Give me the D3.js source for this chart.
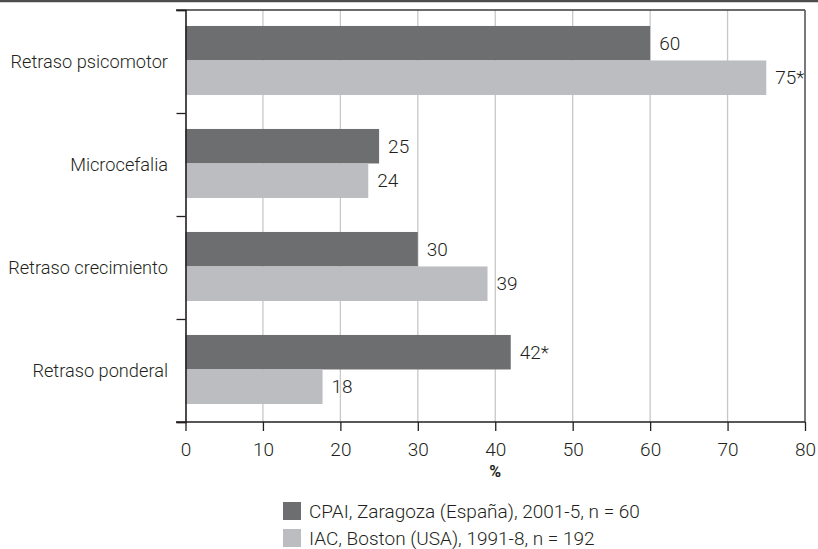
<!DOCTYPE html>
<html><head><meta charset="utf-8">
<script src="https://cdn.jsdelivr.net/npm/d3@7/dist/d3.min.js"></script>
<style>
html,body{margin:0;padding:0;background:#fff;}
svg{display:block;}
text{font-family:Roboto,"Open Sans",sans-serif;fill:#231f20;}
</style></head>
<body>
<svg id="chart" width="818" height="549"></svg>
<script>
const categories = ["Retraso psicomotor","Microcefalia","Retraso crecimiento","Retraso ponderal"];
const seriesNames = ["CPAI, Zaragoza (España), 2001-5, n = 60","IAC, Boston (USA), 1991-8, n = 192"];
const cpaiValues = [60, 25, 30, 42];
const iacValues = [75, 23.6, 39, 17.7];
const cpaiLabels = ["60","25","30","42*"];
const iacLabels = ["75*","24","39","18"];
const xTicks = [0,10,20,30,40,50,60,70,80];
const xTitle = "%";
const colors = ["#6d6e70","#bcbdc0"];

const svg = d3.select("#chart");
const m = {left:185.5, right:805, top:10, bottom:422};
const fontSize = 19;
const catFont = 18.2;
const fw = 300;

const x = d3.scaleLinear().domain([0,80]).range([m.left, m.right]);
const y0 = d3.scaleBand().domain(categories).range([m.top, m.bottom]);
const bw = y0.bandwidth();
const y1 = d3.scaleBand().domain([0,1]).range([bw*0.155, bw*0.825]);

// page top rule
svg.append("line").attr("x1",0).attr("x2",818).attr("y1",1).attr("y2",1)
  .attr("stroke","#4d4d4f").attr("stroke-width",2.5);

// gridlines
svg.append("g").selectAll("line").data(xTicks.filter(t=>t>0 && t<80)).join("line")
  .attr("x1",d=>x(d)).attr("x2",d=>x(d)).attr("y1",m.top).attr("y2",m.bottom)
  .attr("stroke","#c8c8ca").attr("stroke-width",1.3);

// bars
const data = categories.map((c,i)=>({c, vals:[cpaiValues[i], iacValues[i]], labs:[cpaiLabels[i], iacLabels[i]]}));
const g = svg.append("g");
data.forEach(d=>{
  d.vals.forEach((v,j)=>{
    const yy = y0(d.c) + y1(j);
    g.append("rect").attr("x",x(0)).attr("y",yy).attr("width",x(v)-x(0)).attr("height",y1.bandwidth())
      .attr("fill",colors[j]);
    g.append("text").attr("x",x(v)+9).attr("y",yy+y1.bandwidth()/2).attr("dy","0.35em")
      .attr("font-size",fontSize).attr("font-weight",fw).text(d.labs[j]);
  });
});

// frame: top and right
svg.append("line").attr("x1",176).attr("x2",m.right).attr("y1",m.top).attr("y2",m.top)
  .attr("stroke","#3a3a3c").attr("stroke-width",1.5);
svg.append("line").attr("x1",m.right).attr("x2",m.right).attr("y1",m.top).attr("y2",m.bottom)
  .attr("stroke","#4d4d4f").attr("stroke-width",1.5);

// y axis
const yAxis = d3.axisLeft(d3.scaleLinear().domain([0,4]).range([m.top,m.bottom]))
  .tickValues([0,1,2,3,4]).tickSize(9).tickFormat("");
const ya = svg.append("g").attr("transform",`translate(${m.left},0)`).call(yAxis);
ya.select(".domain").attr("stroke","#231f20").attr("stroke-width",1.6);
ya.selectAll(".tick line").attr("stroke","#231f20").attr("stroke-width",1.3);

// category labels
svg.append("g").selectAll("text").data(categories).join("text")
  .attr("x",168).attr("y",d=>y0(d)+bw/2).attr("dy","0.35em").attr("text-anchor","end")
  .attr("font-size",catFont).attr("font-weight",fw).text(d=>d);

// x axis
const xAxis = d3.axisBottom(x).tickValues(xTicks).tickSize(9).tickPadding(12).tickFormat(d3.format("d"));
const xa = svg.append("g").attr("transform",`translate(0,${m.bottom})`).call(xAxis);
xa.select(".domain").remove();
xa.append("line").attr("x1",176).attr("x2",m.right).attr("stroke","#231f20").attr("stroke-width",1.6);
xa.selectAll(".tick line").attr("stroke","#231f20").attr("stroke-width",1.3);
xa.selectAll(".tick text").attr("font-size",fontSize).attr("font-weight",fw)
  .attr("font-family","Roboto,sans-serif").attr("fill","#231f20");

svg.append("text").attr("x",x(40)).attr("y",471).attr("dy","0.35em").attr("text-anchor","middle")
  .attr("font-size",16).attr("font-weight",700).text(xTitle);

// legend
const lg = svg.append("g");
seriesNames.forEach((s,i)=>{
  const cy = 511 + i*27;
  lg.append("rect").attr("x",283).attr("y",cy-9).attr("width",18).attr("height",18).attr("fill",colors[i]);
  lg.append("text").attr("x",309).attr("y",cy).attr("dy","0.35em")
    .attr("font-size",fontSize).attr("font-weight",fw).text(s);
});
</script>
</body></html>
